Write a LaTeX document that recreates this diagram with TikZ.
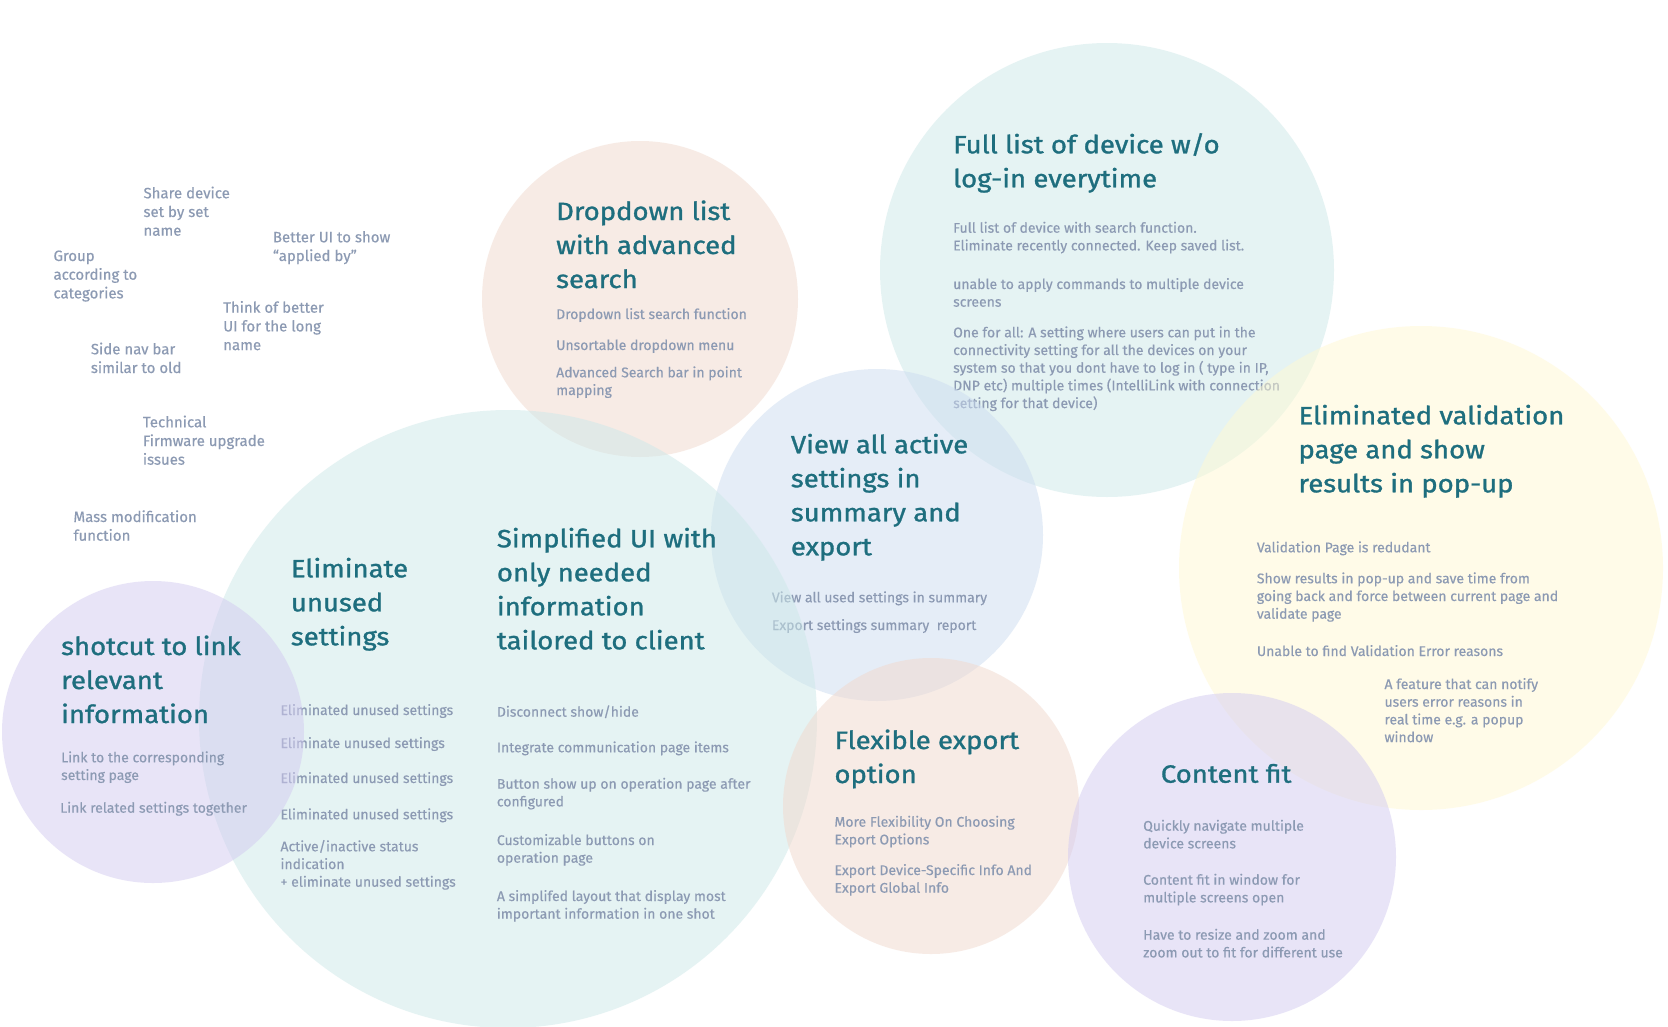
\documentclass[tikz,border=0pt]{standalone}
\usepackage{fontspec}
\setmainfont[FakeBold=0.4]{Fira Sans}
\newfontfamily\headfont[FakeStretch=1.1, FakeBold=1.2]{Fira Sans}
\definecolor{headc}{HTML}{1E6E7E}
\definecolor{bodyc}{HTML}{8C9AB3}
\definecolor{tealc}{HTML}{CDE9E9}
\definecolor{peachc}{HTML}{F1D9CD}
\definecolor{bluec}{HTML}{CDDDF1}
\definecolor{yellowc}{HTML}{FFF9D3}
\definecolor{purplec}{HTML}{D3CBF1}
\tikzset{
  bubble/.style={circle, draw=none, fill=#1, fill opacity=0.5, inner sep=0pt},
  head/.style={anchor=base west, inner sep=0pt, align=left, text=headc, font=\headfont\fontsize{25}{34}\selectfont},
  body/.style={anchor=base west, inner sep=0pt, align=left, text=bodyc, font=\fontsize{14}{17.7}\selectfont},
  note/.style={anchor=base west, inner sep=0pt, align=left, text=bodyc, font=\fontsize{15}{18.7}\selectfont},
}
\begin{document}
\begin{tikzpicture}[x=1pt, y=-1pt]
\useasboundingbox[fill=white] (0,0) rectangle (1668,1026);
% floating notes (anchored at the baseline of the last line)
\node[note] (n1) at (143.3,235.7) {Share device\\set by set\\name};
\node[note] (n2) at (272.7,261) {Better UI to show\\“applied by”};
\node[note] (n3) at (53.3,298.4) {Group\\according to\\categories};
\node[note] (n4) at (223,350.1) {Think of better\\UI for the long\\name};
\node[note] (n5) at (90.7,373) {Side nav bar\\similar to old};
\node[note] (n6) at (142.7,464.7) {Technical\\Firmware upgrade\\issues};
\node[note] (n7) at (73.3,540.7) {Mass modification\\function};
% dropdown
\node[bubble=peachc, minimum size=316pt] (c1) at (640,299) {};
\node[head] (h1) at (556,288) {Dropdown list\\with advanced\\search};
\node[body] (b11) at (556,319) {Dropdown list search function};
\node[body] (b12) at (556,350) {Unsortable dropdown menu};
\node[body] (b13) at (556,395) {Advanced Search bar in point\\mapping};
% full list
\node[bubble=tealc, minimum size=454pt] (c2) at (1107,270) {};
\node[head] (h2) at (953,187.3) {Full list of device w/o\\log-in everytime};
\node[body] (b21) at (953,250.4) {Full list of device with search function.\\Eliminate recently connected. Keep saved list.};
\node[body] (b22) at (953,306.7) {unable to apply commands to multiple device\\screens};
\node[body] (b23) at (953,408.1) {One for all: A setting where users can put in the\\connectivity setting for all the devices on your\\system so that you dont have to log in ( type in IP,\\DNP etc) multiple times (IntelliLink with connection\\setting for that device)};
% view all
\node[bubble=bluec, minimum size=332pt] (c3) at (877,535) {};
\node[head] (h3) at (790.7,555.3) {View all active\\settings in\\summary and\\export};
\node[body] (b31) at (771.7,602.3) {View all used settings in summary};
\node[body] (b32) at (771.7,630) {Export settings summary\ \ report};
% simplified UI
\node[bubble=tealc, minimum size=618pt] (c4) at (508,719) {};
\node[head] (h4) at (496.7,649.3) {Simplified UI with\\only needed\\information\\tailored to client};
\node[body] (b41) at (496.7,716.7) {Disconnect show/hide};
\node[body] (b42) at (496.7,752.3) {Integrate communication page items};
\node[body] (b43) at (496.7,806.4) {Button show up on operation page after\\configured};
\node[body] (b44) at (496.7,862.7) {Customizable buttons on\\operation page};
\node[body] (b45) at (496.7,918.7) {A simplifed layout that display most\\important information in one shot};
\node[head] (h5) at (290.7,645.3) {Eliminate\\unused\\settings};
\node[body] (b51) at (280.3,715) {Eliminated unused settings};
\node[body] (b52) at (280.3,748) {Eliminate unused settings};
\node[body] (b53) at (280.3,783) {Eliminated unused settings};
\node[body] (b54) at (280.3,819.3) {Eliminated unused settings};
\node[body] (b55) at (280.3,886.7) {Active/inactive status\\indication\\+ eliminate unused settings};
% shortcut
\node[bubble=purplec, minimum size=302pt] (c5) at (153,732) {};
\node[head] (h6) at (61,723) {shotcut to link\\relevant\\information};
\node[body] (b61) at (61,780) {Link to the corresponding\\setting page};
\node[body] (b62) at (60,812.7) {Link related settings together};
% validation
\node[bubble=yellowc, minimum size=484pt] (c6) at (1421,568) {};
\node[head] (h7) at (1298.3,492.3) {Eliminated validation\\page and show\\results in pop-up};
\node[body] (b71) at (1256.7,552.3) {Validation Page is redudant};
\node[body] (b72) at (1256.7,618.7) {Show results in pop-up and save time from\\going back and force between current page and\\validate page};
\node[body] (b73) at (1256.7,656) {Unable to find Validation Error reasons};
\node[body] (b74) at (1384.3,742.1) {A feature that can notify\\users error reasons in\\real time e.g. a popup\\window};
% flexible export
\node[bubble=peachc, minimum size=296pt] (c7) at (931,806) {};
\node[head] (h8) at (834.3,783) {Flexible export\\option};
\node[body] (b81) at (834.3,844.4) {More Flexibility On Choosing\\Export Options};
\node[body] (b82) at (834.3,892.7) {Export Device-Specific Info And\\Export Global Info};
% content fit
\node[bubble=purplec, minimum size=328pt] (c8) at (1232,857) {};
\node[head] (h9) at (1160.7,782.7) {Content fit};
\node[body] (b91) at (1143,848.4) {Quickly navigate multiple\\device screens};
\node[body] (b92) at (1143,902.4) {Content fit in window for\\multiple screens open};
\node[body] (b93) at (1143,957.4) {Have to resize and zoom and\\zoom out to fit for different use};
\end{tikzpicture}
\end{document}
